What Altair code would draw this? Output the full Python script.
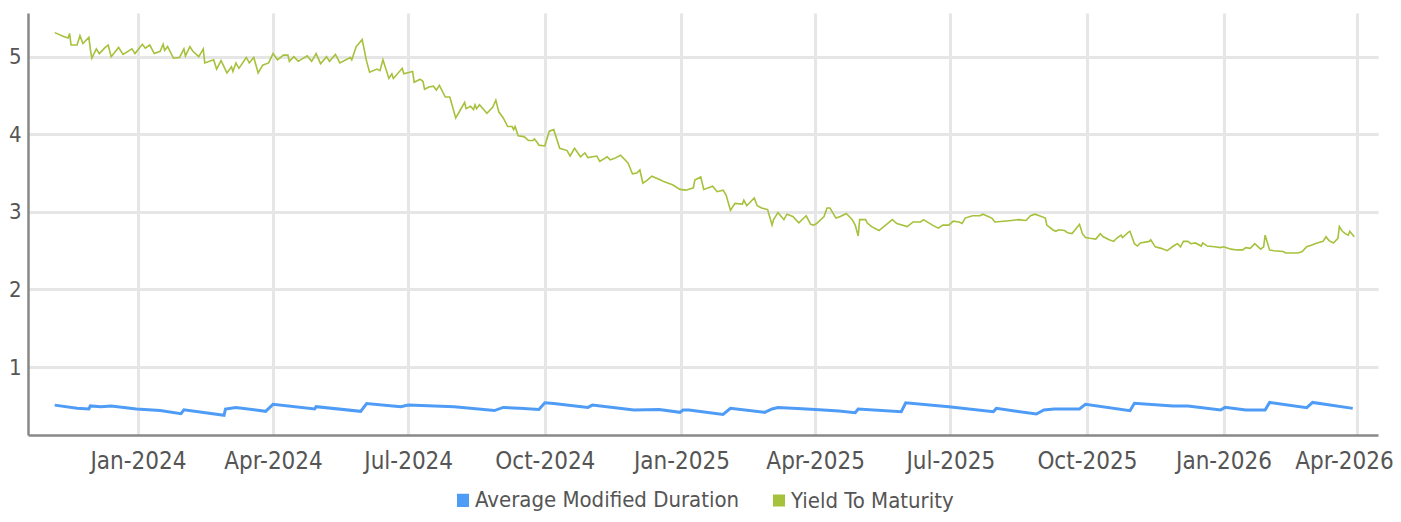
import altair as alt
import pandas as pd

START = "2023-11-06"

# Yield To Maturity: (days since START, value)
yield_days = [0, 6, 9, 10, 11, 15, 17, 19, 23, 24, 25, 28, 30, 34, 36, 38, 43, 46, 52, 54,
              59, 61, 64, 67, 71, 73, 74, 76, 80, 84, 87, 88, 91, 93, 97, 100, 101, 107, 109, 112,
              116, 119, 120, 122, 124, 129, 131, 134, 137, 140, 144, 147, 150, 154, 157, 158, 161, 164, 170, 173,
              176, 179, 183, 185, 189, 192, 199, 200, 203, 207, 210, 212, 217, 219, 221, 225, 227, 228, 234, 235,
              241, 242, 246, 248, 249, 252, 255, 257, 259, 263, 266, 270, 273, 276, 277, 280, 282, 283, 284, 286,
              291, 295, 297, 299, 302, 305, 308, 309, 310, 312, 316, 319, 322, 323, 325, 326, 330, 333, 336, 340,
              345, 347, 350, 354, 357, 359, 365, 367, 372, 374, 377, 381, 386, 389, 392, 394, 396, 399, 402, 408,
              410, 416, 421, 425, 430, 431, 435, 437, 443, 446, 450, 452, 455, 458, 463, 464, 466, 471, 473, 476,
              480, 483, 484, 487, 491, 493, 497, 501, 506, 509, 511, 513, 518, 520, 522, 526, 529, 533, 537, 539,
              541, 542, 546, 547, 550, 555, 564, 567, 574, 578, 583, 585, 591, 595, 598, 602, 605, 609, 611, 613,
              618, 623, 625, 631, 633, 639, 644, 649, 654, 657, 660, 663, 667, 668, 672, 674, 676, 680, 682, 685,
              690, 692, 694, 697, 701, 704, 706, 710, 713, 715, 718, 719, 723, 724, 727, 729, 731, 737, 738, 741,
              745, 749, 754, 756, 758, 760, 763, 765, 768, 772, 773, 776, 781, 785, 787, 792, 796, 800, 802, 805,
              808, 812, 814, 815, 818, 821, 827, 829, 834, 837, 840, 843, 846, 850, 854, 856, 858, 861, 864, 865,
              867, 869, 871, 872, 875]
yield_vals = [5.31, 5.26, 5.24, 5.30, 5.15, 5.15, 5.27, 5.17, 5.25, 5.09, 4.98, 5.10, 5.04, 5.12, 5.15, 5.00, 5.12, 5.03, 5.10, 5.04,
              5.16, 5.11, 5.15, 5.04, 5.07, 5.16, 5.08, 5.13, 4.98, 4.99, 5.10, 5.01, 5.13, 5.07, 5.00, 5.10, 4.92, 4.96, 4.84, 4.95,
              4.79, 4.87, 4.81, 4.92, 4.85, 4.99, 4.92, 4.99, 4.79, 4.89, 4.92, 5.04, 4.96, 5.02, 5.02, 4.94, 5.00, 4.94, 5.01, 4.94,
              5.04, 4.91, 5.00, 4.94, 5.03, 4.92, 4.99, 4.96, 5.13, 5.22, 4.94, 4.80, 4.84, 4.82, 4.96, 4.72, 4.78, 4.72, 4.85, 4.78,
              4.81, 4.67, 4.71, 4.68, 4.58, 4.61, 4.62, 4.57, 4.63, 4.48, 4.48, 4.21, 4.31, 4.41, 4.33, 4.36, 4.32, 4.38, 4.33, 4.38,
              4.27, 4.35, 4.44, 4.29, 4.21, 4.10, 4.10, 4.06, 4.10, 3.98, 3.97, 3.92, 3.92, 3.94, 3.89, 3.86, 3.85, 4.04, 4.06, 3.82,
              3.79, 3.72, 3.82, 3.71, 3.76, 3.70, 3.72, 3.65, 3.71, 3.67, 3.69, 3.73, 3.63, 3.49, 3.50, 3.54, 3.37, 3.41, 3.46, 3.41,
              3.39, 3.35, 3.29, 3.28, 3.31, 3.41, 3.45, 3.29, 3.33, 3.26, 3.28, 3.22, 3.02, 3.11, 3.10, 3.15, 3.08, 3.18, 3.08, 3.05,
              3.03, 2.83, 2.90, 2.99, 2.90, 2.97, 2.94, 2.86, 2.95, 2.84, 2.83, 2.85, 2.94, 3.05, 3.05, 2.92, 2.94, 2.98, 2.90, 2.83,
              2.69, 2.90, 2.90, 2.86, 2.81, 2.76, 2.90, 2.85, 2.81, 2.87, 2.87, 2.90, 2.83, 2.79, 2.83, 2.83, 2.88, 2.87, 2.85, 2.92,
              2.95, 2.95, 2.97, 2.92, 2.87, 2.88, 2.89, 2.90, 2.89, 2.95, 2.97, 2.95, 2.92, 2.83, 2.77, 2.75, 2.77, 2.76, 2.73, 2.72,
              2.84, 2.72, 2.67, 2.66, 2.65, 2.72, 2.68, 2.64, 2.62, 2.66, 2.70, 2.67, 2.74, 2.75, 2.59, 2.56, 2.60, 2.62, 2.64, 2.55,
              2.53, 2.50, 2.57, 2.59, 2.55, 2.62, 2.62, 2.59, 2.60, 2.56, 2.60, 2.56, 2.55, 2.54, 2.55, 2.52, 2.51, 2.51, 2.54, 2.53,
              2.59, 2.52, 2.55, 2.70, 2.51, 2.50, 2.49, 2.47, 2.47, 2.47, 2.49, 2.55, 2.57, 2.60, 2.62, 2.68, 2.63, 2.60, 2.66, 2.81,
              2.75, 2.72, 2.70, 2.75, 2.68]

# Average Modified Duration: (days since START, value)
dur_days = [0, 15, 23, 24, 31, 38, 55, 71, 85, 87, 114, 115, 122, 142, 147, 175, 176, 206, 210, 233,
            238, 269, 296, 302, 313, 326, 330, 336, 359, 362, 390, 407, 421, 423, 427, 450, 455, 478, 483, 487,
            500, 512, 528, 539, 541, 570, 573, 602, 632, 634, 661, 666, 673, 690, 694, 724, 727, 753, 763, 785,
            788, 802, 815, 818, 843, 847, 874]
dur_vals = [0.51, 0.47, 0.46, 0.50, 0.49, 0.50, 0.46, 0.44, 0.40, 0.45, 0.38, 0.46, 0.48, 0.43, 0.52, 0.46, 0.49, 0.43, 0.53, 0.49,
            0.51, 0.49, 0.44, 0.48, 0.47, 0.455, 0.54, 0.53, 0.48, 0.51, 0.447, 0.455, 0.417, 0.447, 0.447, 0.39, 0.468, 0.417, 0.46, 0.48,
            0.468, 0.455, 0.434, 0.412, 0.46, 0.425, 0.54, 0.49, 0.425, 0.468, 0.395, 0.447, 0.46, 0.46, 0.52, 0.438, 0.533, 0.498, 0.498, 0.447,
            0.481, 0.447, 0.447, 0.545, 0.477, 0.545, 0.468]

SERIES = ["Average Modified Duration", "Yield To Maturity"]
COLORS = ["#4f9cf7", "#a6c13c"]

start = pd.Timestamp(START)
frames = []
for name, days, vals in [(SERIES[0], dur_days, dur_vals), (SERIES[1], yield_days, yield_vals)]:
    frames.append(pd.DataFrame({
        "date": start + pd.to_timedelta(days, unit="D"),
        "value": vals,
        "series": name,
    }))
df = pd.concat(frames, ignore_index=True)

FONT = "DejaVu Sans Condensed, DejaVu Sans, sans-serif"

# legend swatch: a stack of short strokes that reads as a filled square
_ys = [-0.85 + 0.17 * i for i in range(11)]
SWATCH = "".join(f"M-1,{y:.2f}H1" for y in _ys)

chart = alt.Chart(df).mark_line(interpolate="linear").encode(
    x=alt.X("date:T",
            scale=alt.Scale(domain=["2023-10-19", "2026-04-15"], nice=False),
            axis=alt.Axis(title=None, format="%b-%Y",
                          tickCount={"interval": "month", "step": 3},
                          labelPadding=14, labelFontSize=24,
                          labelFlush=30, labelFlushOffset=36)),
    y=alt.Y("value:Q",
            scale=alt.Scale(domain=[0.125, 5.563], nice=False, zero=False),
            axis=alt.Axis(title=None, values=[1, 2, 3, 4, 5], labelPadding=7,
                          labelFontSize=22)),
    color=alt.Color("series:N",
                    scale=alt.Scale(domain=SERIES, range=COLORS),
                    legend=alt.Legend(title=None, orient="none", direction="horizontal",
                                      legendX=424, legendY=476,
                                      symbolType=SWATCH, symbolSize=144,
                                      columnPadding=28, labelOffset=1, labelLimit=600)),
    strokeWidth=alt.StrokeWidth("series:N",
                                scale=alt.Scale(domain=SERIES, range=[3, 1.6]),
                                legend=None),
    order=alt.Order("date:T"),
).properties(
    width=1350, height=422,
    autosize=alt.AutoSizeParams(type="none"),
    padding={"left": 20, "top": 5, "right": 15, "bottom": 79},
).configure_view(
    strokeWidth=0
).configure_axis(
    labelFont=FONT, labelColor="#555555",
    domainColor="#888888", domainWidth=2.5,
    gridColor="#e6e6e6", gridWidth=3,
    ticks=False,
).configure_legend(
    labelFont=FONT, labelFontSize=22, labelColor="#555555",
)

chart.save("out.html", embed_options={"renderer": "svg", "actions": False})
